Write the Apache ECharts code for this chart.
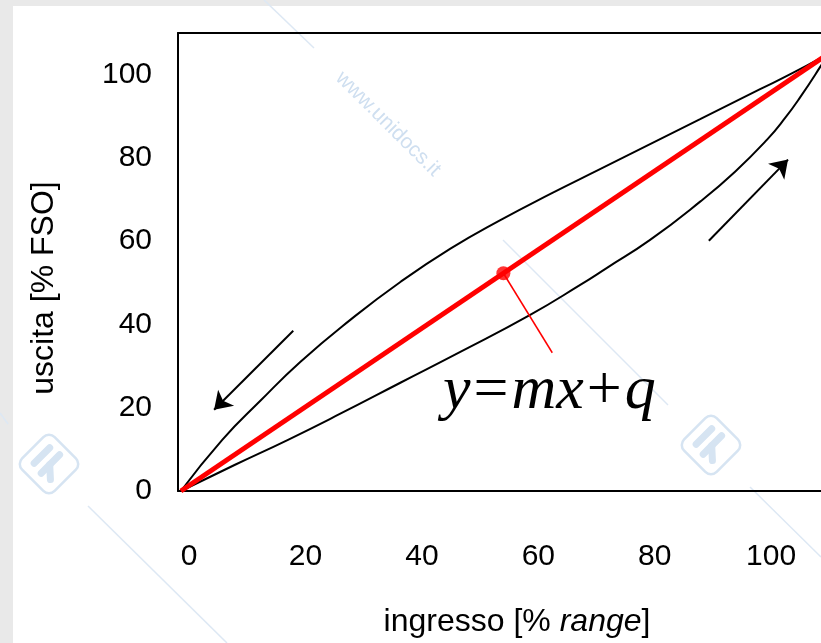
<!DOCTYPE html>
<html>
<head>
<meta charset="utf-8">
<script src="https://cdn.jsdelivr.net/npm/echarts@6/dist/echarts.min.js"></script>
<style>
  html, body { margin: 0; padding: 0; background: #e9e9e9; }
  #chart { width: 821px; height: 643px; }
</style>
</head>
<body>
<div id="chart"></div>
<script>
// Tick labels
const xTicks = [0, 20, 40, 60, 80, 100];
const yTicks = [0, 20, 40, 60, 80, 100];

// Lower branch: rising input
const riseX = [-1.4, 7.9, 17.0, 25.9, 36.3, 46.6, 58.6, 67.2, 71.8, 79.2, 87.8, 93.8, 99.3, 102.4, 105.0, 108.4, 109.8];
const riseY = [0, 6.3, 12.3, 18.5, 26.0, 33.4, 42.3, 49.5, 53.6, 60.3, 69.5, 76.7, 84.4, 89.6, 94.6, 101.8, 105.0];

// Upper branch: falling input
const fallX = [-1.4, 5.7, 12.2, 19.1, 27.7, 36.3, 44.9, 53.4, 62.0, 70.6, 79.2, 87.8, 98.1, 103.3, 109.8];
const fallY = [0, 12.3, 21.6, 31.0, 41.1, 50.2, 58.2, 65.0, 71.3, 77.3, 83.3, 89.3, 96.5, 100.1, 105.0];

// Straight line y = mx + q
const fitX = [-1.4, 109.8];
const fitY = [0, 105.0];

// Marked point on the line and its leader
const pointXY = [54.0, 52.3];
const leaderEnd = [62.4, 33.2];

// Direction arrows
const arrowFall = [[17.9, 38.5], [4.3, 19.5]];
const arrowRise = [[89.3, 60.1], [102.9, 79.6]];

const zip = (xs, ys) => xs.map((x, i) => [x, ys[i]]);

const FONT = '"Liberation Sans", Arial, sans-serif';
const SERIF = '"Liberation Serif", "Times New Roman", serif';
const WM = '#d6e4f2';

function logo(cx, cy) {
  return {
    type: 'group', x: cx, y: cy, rotation: -Math.PI / 4, z: -5,
    children: [
      { type: 'rect', shape: { x: -23, y: -23, width: 46, height: 46, r: 8 },
        style: { fill: 'none', stroke: WM, lineWidth: 2.5 } },
      { type: 'line', shape: { x1: -11, y1: -12, x2: -11, y2: 10 },
        style: { stroke: WM, lineWidth: 7, lineCap: 'round' } },
      { type: 'line', shape: { x1: 1, y1: -14, x2: 1, y2: 12 },
        style: { stroke: WM, lineWidth: 7, lineCap: 'round' } },
      { type: 'line', shape: { x1: 1, y1: 0, x2: 12, y2: 10 },
        style: { stroke: WM, lineWidth: 7, lineCap: 'round' } }
    ]
  };
}

function wmLine(x1, y1, x2, y2) {
  return { type: 'line', z: -5, shape: { x1, y1, x2, y2 },
           style: { stroke: '#dde8f4', lineWidth: 1.5 } };
}

const chart = echarts.init(document.getElementById('chart'), null, { renderer: 'canvas' });

const frameLine = { show: true, onZero: false, lineStyle: { color: '#000', width: 2 } };

chart.setOption({
  backgroundColor: '#e9e9e9',
  animation: false,
  grid: { left: 178, top: 33, width: 663, height: 458, show: false,
          outerBoundsMode: 'none', containLabel: false },
  xAxis: [{
    type: 'value', min: -1.9, max: 112, position: 'bottom',
    axisLine: frameLine, axisTick: { show: false }, splitLine: { show: false },
    axisLabel: { customValues: xTicks, margin: 51, fontSize: 30, color: '#000', fontFamily: FONT }
  }, {
    type: 'value', min: -1.9, max: 112, position: 'top',
    axisLine: frameLine, axisTick: { show: false }, splitLine: { show: false },
    axisLabel: { show: false }
  }],
  yAxis: {
    type: 'value', min: 0, max: 110,
    axisLine: frameLine, axisTick: { show: false }, splitLine: { show: false },
    axisLabel: { customValues: yTicks, margin: 26, fontSize: 30, color: '#000', fontFamily: FONT }
  },
  graphic: [
    { type: 'rect', z: -10, shape: { x: 13, y: 6, width: 808, height: 637 }, style: { fill: '#fff' } },
    wmLine(264, 0, 314, 48),
    wmLine(88, 506, 227, 643),
    wmLine(503, 240, 668, 405),
    wmLine(750, 487, 821, 557),
    wmLine(0, 413, 8, 424),
    { type: 'text', z: -5, x: 388, y: 124, rotation: -Math.PI / 4,
      style: { text: 'www.unidocs.it', fill: '#cfdff0', font: '21px ' + FONT,
               align: 'center', verticalAlign: 'middle' } },
    logo(49, 464),
    logo(711, 445),
    { type: 'text', x: 44, y: 288, rotation: Math.PI / 2,
      style: { text: 'uscita [% FSO]', fill: '#000', font: '32px ' + FONT,
               align: 'center', verticalAlign: 'middle' } },
    { type: 'text', x: 517, y: 622,
      style: { text: '{a|ingresso [% }{b|range}{a|]}', align: 'center', verticalAlign: 'middle',
               rich: { a: { fontSize: 32, fontFamily: FONT, fill: '#000' },
                       b: { fontSize: 32, fontFamily: FONT, fontStyle: 'italic', fill: '#000' } } } },
    { type: 'text', x: 443, y: 392,
      style: { text: '{i|y}{n|=}{i|mx}{n|+}{i|q}', align: 'left', verticalAlign: 'middle',
               rich: { i: { fontSize: 62, fontFamily: SERIF, fontStyle: 'italic', fill: '#000' },
                       n: { fontSize: 62, fontFamily: SERIF, fill: '#000', padding: [0, 3] } } } }
  ],
  series: [
    { name: 'salita', type: 'line', data: zip(riseX, riseY), smooth: 0.5,
      symbol: 'none', lineStyle: { color: '#000', width: 2 }, z: 3 },
    { name: 'discesa', type: 'line', data: zip(fallX, fallY), smooth: 0.5,
      symbol: 'none', lineStyle: { color: '#000', width: 2 }, z: 3 },
    { name: 'retta', type: 'line', data: zip(fitX, fitY),
      symbol: 'none', lineStyle: { color: '#ff0000', width: 5 }, z: 4 },
    { name: 'richiamo', type: 'line', data: [pointXY, leaderEnd],
      symbol: 'none', lineStyle: { color: '#ff0000', width: 1.5 }, z: 4 },
    { name: 'punto', type: 'scatter', data: [pointXY], symbolSize: 14,
      itemStyle: { color: '#ff0000' }, z: 5 },
    { name: 'frecce', type: 'lines', coordinateSystem: 'cartesian2d',
      data: [{ coords: arrowFall }, { coords: arrowRise }],
      symbol: ['none', 'arrow'], symbolSize: [0, 17],
      lineStyle: { color: '#000', width: 2, opacity: 1 }, z: 5 }
  ]
});
</script>
</body>
</html>
